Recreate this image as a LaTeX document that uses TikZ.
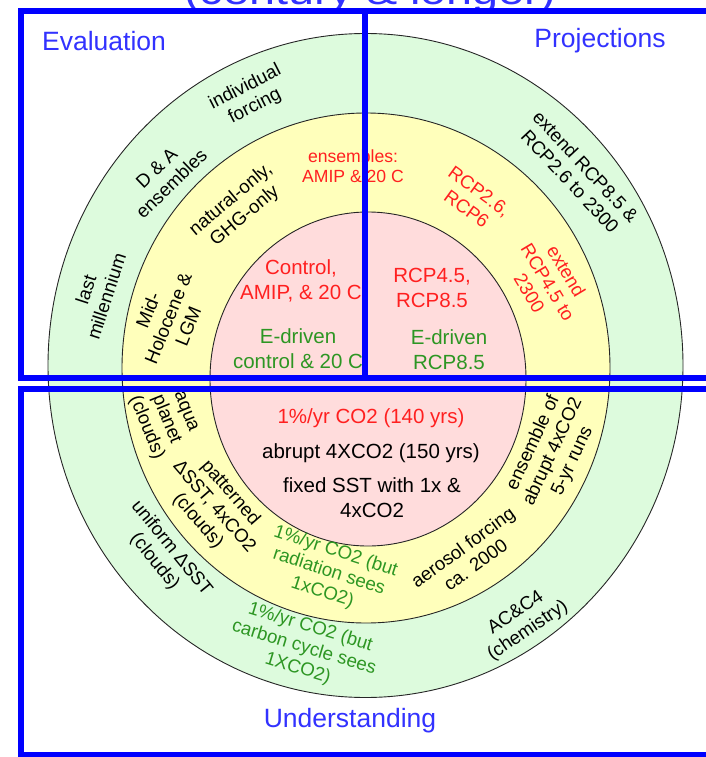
\documentclass[tikz,border=0pt]{standalone}
\usepackage{fontspec}
\setmainfont{Liberation Sans}
\definecolor{ringgreen}{RGB}{221,251,221}
\definecolor{ringyellow}{RGB}{255,255,187}
\definecolor{ringpink}{RGB}{255,220,220}
\definecolor{txtred}{RGB}{255,32,32}
\definecolor{txtgreen}{RGB}{45,150,35}
\definecolor{frameblue}{RGB}{0,0,255}
\definecolor{headblue}{RGB}{50,50,255}
\begin{document}
\begin{tikzpicture}[x=1pt,y=-1pt,
  ring/.style={draw=black!85, line width=0.9pt},
  lbl/.style={align=center, inner sep=0pt, font=\fontsize{18.7}{21.5}\selectfont},
  midlbl/.style={align=center, inner sep=0pt, font=\fontsize{17.6}{20}\selectfont},
  core/.style={align=center, inner sep=0pt, font=\fontsize{20.5}{25}\selectfont},
  head/.style={inner sep=0pt, text=headblue, font=\fontsize{26.5}{30}\selectfont},
  blueframe/.style={draw=frameblue, line width=5.5pt, line join=miter}]
\useasboundingbox (0,0) rectangle (705,757);

% three rings
\fill[ringgreen] (365.5,365.5) ellipse [x radius=317.5pt, y radius=332pt];
\draw[ring] (365.5,365.5) ellipse [x radius=317.5pt, y radius=332pt];
\fill[ringyellow] (366,368) ellipse [x radius=244pt, y radius=255pt];
\draw[ring] (366,368) ellipse [x radius=244pt, y radius=255pt];
\fill[ringpink] (368,379) ellipse [x radius=158pt, y radius=167pt];
\draw[ring] (368,379) ellipse [x radius=158pt, y radius=167pt];

% headings
\node[head] (heval) at (104,41) {Evaluation};
\node[head] (hproj) at (600,41) {Projections};
\node[head] (hund) at (350,721) {Understanding};
\node[inner sep=0pt, anchor=base, text=headblue, font=\fontsize{39}{44}\selectfont]
  (htop) at (370,5) {\scalebox{1.2}[1]{(century \& longer)}};

% core
\node[core, text=txtred] (c1) at (301,281) {Control,\\AMIP, \& 20 C};
\node[core, text=txtgreen] (c2) at (298,349) {E-driven\\control \& 20 C};
\node[core, text=txtred] (c3) at (432,288) {RCP4.5,\\RCP8.5};
\node[core, text=txtgreen] (c4) at (449,350) {E-driven\\RCP8.5};
\node[core, text=txtred] (c5) at (371,418) {1\%/yr CO2 (140 yrs)};
\node[core] (c6) at (371,453) {abrupt 4XCO2 (150 yrs)};
\node[core] (c7) at (372,498) {fixed SST with 1x \&\\4xCO2};

% middle ring
\node[midlbl, text=txtred] (m1) at (353,166) {ensembles:\\AMIP \& 20 C};
\node[lbl, text=txtred, rotate=-36] (m2) at (473,200) {RCP2.6,\\RCP6};
\node[lbl, text=txtred, rotate=-59] (m3) at (548,282) {extend\\RCP4.5 to\\2300};
\node[lbl, rotate=40] (m4) at (238,208) {natural-only,\\GHG-only};
\node[lbl, rotate=68] (m5) at (168,318) {Mid-\\Holocene \&\\LGM};
\node[lbl, rotate=-68] (m6) at (165,420) {aqua\\planet\\(clouds)};
\node[lbl, rotate=-49] (m7) at (214,507) {patterned\\ΔSST, 4xCO2\\(clouds)};
\node[lbl, text=txtgreen, rotate=-18] (m8) at (329,572) {1\%/yr CO2 (but\\radiation sees\\1xCO2)};
\node[lbl, rotate=36] (m9) at (469,556) {aerosol forcing\\ca. 2000};
\node[lbl, rotate=65] (m10) at (553,452) {ensemble of\\abrupt 4xCO2\\5-yr runs};

% outer ring
\node[lbl, rotate=27] (o1) at (250,97) {individual\\forcing};
\node[lbl, rotate=44] (o2) at (164,176) {D \& A\\ensembles};
\node[lbl, rotate=72] (o3) at (96,293) {last\\millennium};
\node[lbl, rotate=-47] (o4) at (578,174) {extend RCP8.5 \&\\RCP2.6 to 2300};
\node[lbl, rotate=-51] (o5) at (163,555) {uniform ΔSST\\(clouds)};
\node[lbl, text=txtgreen, rotate=-17] (o6) at (304,648) {1\%/yr CO2 (but\\carbon cycle sees\\1XCO2)};
\node[lbl, rotate=34] (o7) at (522,622) {AC\&C4\\(chemistry)};

% blue frames
\coordinate (tl) at (21,11);
\coordinate (tr) at (720,11);
\coordinate (ml) at (21,378);
\coordinate (mr) at (720,378);
\coordinate (bl) at (21,389);
\coordinate (br) at (720,389);
\coordinate (fl) at (21,755);
\coordinate (fr) at (720,755);
\coordinate (vt) at (365,11);
\coordinate (vb) at (365,378);
\draw[blueframe] (tr) -- (tl) -- (ml) -- (mr);
\draw[blueframe] (vt) -- (vb);
\draw[blueframe] (br) -- (bl) -- (fl) -- (fr);
\end{tikzpicture}
\end{document}
